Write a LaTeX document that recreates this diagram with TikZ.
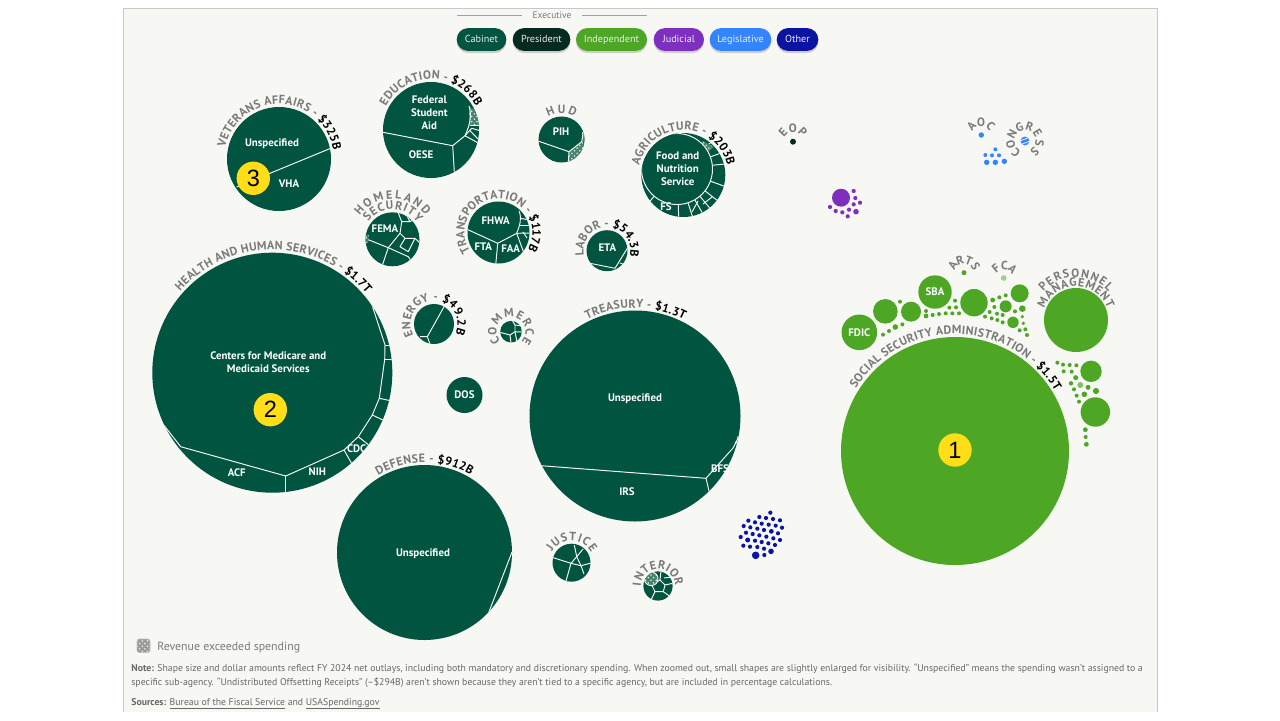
\documentclass[tikz,border=0pt]{standalone}
\usepackage{fontspec}
\setmainfont{PT Sans}
\newfontfamily\badgefont{Liberation Sans}
\usetikzlibrary{calc,patterns,shadows,decorations.text}
\definecolor{fedpaper}{RGB}{247,247,243}
\definecolor{fedframe}{RGB}{200,200,200}
\definecolor{fedcabinet}{RGB}{0,84,64}
\definecolor{fedpresident}{RGB}{5,42,32}
\definecolor{fedindep}{RGB}{78,167,36}
\definecolor{fedjudicial}{RGB}{127,47,189}
\definecolor{fedlegis}{RGB}{51,133,255}
\definecolor{fedother}{RGB}{10,20,160}
\definecolor{fedyellow}{RGB}{255,221,23}
\definecolor{fedgray}{RGB}{122,122,122}
\definecolor{fednote}{RGB}{104,104,104}
\definecolor{fedhatch}{RGB}{70,130,110}
\newcommand{\arcname}{\color{fedgray}\bfseries\fontsize{6.8}{8}\selectfont}
\newcommand{\arcamt}{\color{black}\bfseries\fontsize{6.8}{8}\selectfont}
% centre x, centre y, radius, first angle, last angle, text
\newcommand{\arclabel}[6]{
    \path[decorate,decoration={text along path,text align=fit to path,text={|\arcname|#6||}}]
        (#1,#2) ++(#4:#3) arc (#4:#5:#3);
}
% the tiny ones: centre x, centre y, radius, first angle, angle step, letters
\newcommand{\arcletters}[6]{
    \foreach \ch [count=\i from 0] in {#6} {
        \pgfmathsetmacro\ang{#4+\i*#5}
        \node[rotate=270-\ang,anchor=base,inner sep=0pt,font=\arcname] (letter\ch) at ({#1+#3*cos(\ang)},{#2+#3*sin(\ang)}) {\ch};
    }
}
\tikzset{
    cell/.style={draw=fedpaper,line width=0.55pt,line join=round},
    hatch/.style={preaction={fill=fedhatch},pattern=crosshatch dots,pattern color=white!85!fedhatch},
    hatchgray/.style={preaction={fill=fedgray!75},pattern=crosshatch dots,pattern color=white!85!fedgray},
    inlabel/.style={text=white,font=\bfseries\fontsize{6.2}{7.4}\selectfont,align=center,inner sep=0pt},
    badge/.style={circle,fill=fedyellow,minimum size=19pt,inner sep=0pt,font=\badgefont\fontsize{13.4}{14}\selectfont},
    pill/.style={rounded corners=6.5pt,minimum height=13pt,inner sep=0pt,text=white!92!black,text height=4.3pt,text depth=1.3pt,
        font=\fontsize{5.8}{7}\selectfont,drop shadow={shadow xshift=0pt,shadow yshift=-1.2pt,opacity=0.35}},
    footnote/.style={anchor=base west,inner sep=0pt,text=fednote,font=\fontsize{5.56}{7}\selectfont}
}
\begin{document}
\begin{tikzpicture}[x=0.02cm,y=-0.02cm]
    \useasboundingbox (0,0) rectangle (1280,720);
    \fill[white] (0,0) rectangle (1280,720);
    \fill[fedpaper] (123,8) rectangle (1157,712);
    \draw[fedframe,line width=0.5pt] (123,712) -- (123,8) -- (1157,8) -- (1157,712);

    % Branch legend
    \draw[fedgray!70,line width=0.35pt] (457,15) -- (522,15);
    \draw[fedgray!70,line width=0.35pt] (582,15) -- (647,15);
    \node[text=fedgray,font=\fontsize{5.4}{6}\selectfont] (execlabel) at (552,15.5) {Executive};
    \foreach \name/\col/\cx/\pw in {Cabinet/fedcabinet/481.5/49.6,President/fedpresident/541.5/57.6,
        Independent/fedindep/611.5/71,Judicial/fedjudicial/678.8/50.3,Legislative/fedlegis/740.5/61.6,Other/fedother/797.5/41.6} {
        \node[pill,fill=\col,minimum width=\pw*0.02cm] (pill\name) at (\cx,39.5) {\name};
    }

    % Veterans Affairs
    \fill[fedcabinet] (279,159) circle (52);
    \draw[cell] (330.7,148.3) -- (236.7,187);
    \arclabel{279}{159}{55}{192}{351}{VETERANS AFFAIRS - |\arcamt|{\$}325B}
    \node[inlabel] (vhaunspec) at (272,143.5) {Unspecified};
    \node[inlabel] (vha) at (289,184) {VHA};
    \node[badge] (badgethree) at (253.3,178.3) {3};

    % Education
    \fill[fedcabinet] (431,130) circle (48);
    \begin{scope}
        \clip (431,130) circle (48);
        \fill[hatch] (469,107) -- (481,112) -- (481,125) -- (469.5,125) -- cycle;
        \draw[cell] (383,132.3) -- (452.7,145.7) -- (454.3,172);
        \draw[cell] (452.7,145.7) -- (465,135.7) .. controls (470,125) and (472,115) .. (469,106);
        \draw[cell] (465,135.7) -- (480,144);
        \draw[cell] (465,135.7) -- (471.7,128.3) -- (481,131);
        \draw[cell] (469.3,130) -- (478,139);
        \draw[cell] (469.5,125) -- (481,125);
    \end{scope}
    \arclabel{431}{130}{51}{208}{332}{EDUCATION - |\arcamt|{\$}268B}
    \node[inlabel] (fsa) at (429.3,113) {Federal\\Student\\Aid};
    \node[inlabel] (oese) at (421,155) {OESE};

    % Housing and Urban Development
    \fill[fedcabinet] (561.5,139.5) circle (23);
    \begin{scope}
        \clip (561.5,139.5) circle (23);
        \fill[hatch] (569,151.7) -- (568.3,164) -- (578,164) -- (586,146) -- (581.7,141.7) -- cycle;
        \fill[hatch] (582,132) rectangle (586,141.7);
        \draw[cell] (538,141) -- (569,151.7) -- (568.3,163);
        \draw[cell] (569,151.7) -- (581.7,141.7) -- (583,133);
    \end{scope}
    \arcletters{561.5}{139.5}{26}{248}{22}{H,U,D}
    \node[inlabel] (pih) at (561,132) {PIH};

    % Agriculture
    \fill[fedcabinet] (683.3,175) circle (42);
    \begin{scope}
        \clip (683.3,175) circle (42);
        \foreach \a in {-38,-20,-6,20,38,50,60,72,88,130} {
            \draw[cell] (677,169) -- ++(\a:60);
        }
        \fill[hatch] (703,141) -- (714,147) -- (708,152) -- (699,146) -- cycle;
        \draw[cell,fill=fedcabinet] (677,169) circle (35.5);
        \draw[cell] (644,192) -- (652,214);
        \draw[cell] (703,204) -- (712,197);
        \draw[cell] (698,201) -- (692,212);
    \end{scope}
    \arclabel{683.3}{175}{45}{192}{348}{AGRICULTURE - |\arcamt|{\$}203B}
    \node[inlabel] (fns) at (677.7,169) {Food and\\Nutrition\\Service};
    \node[inlabel] (fs) at (666,206.7) {FS};

    % Homeland Security
    \fill[fedcabinet] (392.5,239.3) circle (27);
    \begin{scope}
        \clip (392.5,239.3) circle (27);
        \draw[cell] (364,238) -- (388.3,247.7) -- (381.7,267);
        \draw[cell] (388.3,247.7) -- (408.3,256.7) -- (412,262);
        \draw[cell] (388.3,247.7) -- (400,233.3) -- (401.7,221.7) -- (398.3,213);
        \draw[cell] (400,233.3) -- (405,238.3) -- (415,238.3) -- (420,243);
        \draw[cell] (405,238.3) -- (400,246.7) -- (408.3,251.7) -- (415,238.3);
        \draw[cell] (401.7,221.7) -- (410,221.7) -- (414,219);
        \draw[cell] (406,214) -- (410,221.7);
        \fill[hatch] (365,234) -- (369,235) -- (368,243) -- (364,243) -- cycle;
    \end{scope}
    \arclabel{392.5}{239.3}{30}{216}{326}{SECURITY}
    \arclabel{392.5}{239.3}{40.5}{216}{324}{HOMELAND}
    \node[inlabel] (fema) at (385,229) {FEMA};

    % Transportation
    \fill[fedcabinet] (498.5,232.5) circle (31);
    \begin{scope}
        \clip (498.5,232.5) circle (31);
        \draw[cell] (467,229.3) -- (497.7,243.3) -- (495.7,265);
        \draw[cell] (497.7,243.3) -- (516.7,233.3) .. controls (520,225) and (522,218) .. (519,211);
        \draw[cell] (516.7,233.3) -- (525,256);
        \draw[cell] (520,218.3) -- (530,220);
        \draw[cell] (519,225) -- (530,225);
        \draw[cell] (516.7,233.3) -- (530,233);
        \draw[cell] (523,232) -- (527,238);
    \end{scope}
    \arclabel{498.5}{232.5}{34}{146}{391}{TRANSPORTATION - |\arcamt|{\$}117B}
    \node[inlabel] (fhwa) at (495.7,220.7) {FHWA};
    \node[inlabel] (fta) at (483.3,246.7) {FTA};
    \node[inlabel] (faa) at (510.7,248.7) {FAA};

    % Labor
    \fill[fedcabinet] (607,250.7) circle (20.5);
    \begin{scope}
        \clip (607,250.7) circle (20.5);
        \draw[cell] (587,262.7) -- (615,268.3) -- (628.3,246.7);
        \draw[cell] (620,263) -- (628,266);
    \end{scope}
    \arclabel{607}{250.7}{23.5}{168}{374}{LABOR - |\arcamt|{\$}54.3B}
    \node[inlabel] (eta) at (607.3,247.3) {ETA};

    % Energy
    \fill[fedcabinet] (434,324) circle (20);
    \begin{scope}
        \clip (434,324) circle (20);
        \draw[cell] (445,305) -- (427.3,336.7) -- (420,336.7);
        \draw[cell] (427.3,336.7) -- (430,344);
    \end{scope}
    \arclabel{434}{324}{23.5}{151}{385}{ENERGY - |\arcamt|{\$}49.2B}

    % Commerce
    \fill[fedcabinet] (511,331.7) circle (10.8);
    \begin{scope}
        \clip (511,331.7) circle (10.8);
        \draw[cell] (500,332.3) -- (510,335) -- (515,331.7) -- (515,325) -- (512,320);
        \draw[cell] (510,335) -- (511,343);
        \draw[cell] (515,331.7) -- (517,342);
        \draw[cell] (515,325) -- (522,326);
        \draw[cell] (515,331.7) -- (522,332);
    \end{scope}
    \arclabel{511}{331.7}{14.5}{136}{404}{COMMERCE}

    % State
    \fill[fedcabinet] (464.5,395) circle (18);
    \node[inlabel] (dos) at (464.5,395) {DOS};

    % Health and Human Services
    \fill[fedcabinet] (272.3,372.7) circle (120);
    \begin{scope}
        \clip (272.3,372.7) circle (120);
        \draw[cell] (371.7,304) -- (385,345) -- (384.7,359.3) -- (379.3,398.3) -- (372.3,415) -- (358.3,436.7) -- (344,450) -- (285.7,476) -- (180.7,446.7) -- (163,424);
        \draw[cell] (385,345) -- (394,345);
        \draw[cell] (384.7,359.3) -- (394,359.3);
        \draw[cell] (379.3,398.3) -- (392,401);
        \draw[cell] (372.3,415) -- (385,421);
        \draw[cell] (358.3,436.7) -- (370,446);
        \draw[cell] (344,450) -- (352,464);
        \draw[cell] (285.7,476) -- (285.7,494);
    \end{scope}
    \arclabel{272.3}{372.7}{123}{221.5}{320}{HEALTH AND HUMAN SERVICES - |\arcamt|{\$}1.7T}
    \node[inlabel] (cms) at (268.3,361.7) {Centers for Medicare and\\Medicaid Services};
    \node[inlabel] (acf) at (236.7,472.7) {ACF};
    \node[inlabel] (nih) at (317.3,472) {NIH};
    \node[inlabel] (cdc) at (356.7,449) {CDC};
    \node[badge] (badgetwo) at (270.3,409.7) {2};

    % Treasury
    \fill[fedcabinet] (635,416) circle (105.5);
    \begin{scope}
        \clip (635,416) circle (105.5);
        \draw[cell] (541,465.7) -- (706,478.3) -- (709,491);
        \draw[cell] (706,478.3) -- (733.3,447.7) -- (741,432);
        \draw[cell] (735,442) -- (741,445);
        \draw[cell] (737,437) -- (742,439);
    \end{scope}
    \arclabel{635}{416}{108}{243.7}{297}{TREASURY - |\arcamt|{\$}1.3T}
    \node[inlabel] (treasunspec) at (635,398.5) {Unspecified};
    \node[inlabel] (irs) at (627,492) {IRS};
    \node[inlabel] (bfs) at (720,468.3) {BFS};

    % Defense
    \fill[fedcabinet] (424.5,552.5) circle (87.5);
    \begin{scope}
        \clip (424.5,552.5) circle (87.5);
        \draw[cell] (512,552) -- (487,617) -- (477,630);
    \end{scope}
    \arclabel{424.5}{552.5}{90}{239}{301}{DEFENSE - |\arcamt|{\$}912B}
    \node[inlabel] (defunspec) at (423,553.5) {Unspecified};

    % Justice
    \fill[fedcabinet] (571.5,562.7) circle (19);
    \begin{scope}
        \clip (571.5,562.7) circle (19);
        \draw[cell] (552,557.3) -- (571,563.3) -- (565.7,582);
        \draw[cell] (571,563.3) -- (576.7,556.7) -- (574.3,545);
        \draw[cell] (571,563.3) -- (581,565.7) -- (584,574);
        \draw[cell] (581,565.7) -- (591,563);
        \draw[cell] (576.7,556.7) -- (581,565.7);
        \draw[cell] (576.7,556.7) -- (583,549);
    \end{scope}
    \arclabel{571.5}{562.7}{22}{209}{333}{JUSTICE}

    % Interior
    \fill[fedcabinet] (658,586) circle (14.6);
    \begin{scope}
        \clip (658,586) circle (14.6);
        \draw[cell] (660,580) -- (665,585) -- (663.3,591.7) -- (655,591.7) -- (651.7,585) -- cycle;
        \draw[cell] (660,580) -- (661,571);
        \draw[cell] (665,585) -- (674,583);
        \draw[cell] (663.3,591.7) -- (671,597);
        \draw[cell] (655,591.7) -- (651,600);
        \draw[cell] (664,578) -- (672,577);
        \draw[cell,hatch] (651.2,578.8) circle (6.8);
    \end{scope}
    \arclabel{658}{586}{17}{180}{360}{INTERIOR}

    % Small agencies, zoomed pixel positions
    \fill[fedpresident] (793,141.7) circle (3);
    \arcletters{793}{141.7}{9.5}{223}{46}{E,O,P}
    \fill[fedlegis] (981.3,135) circle (2.7);
    \arcletters{981.3}{135}{9}{222}{47}{A,O,C}
    \fill[fedlegis] (1025,141) circle (4.4);
    \begin{scope}
        \clip (1025,141) circle (4.4);
        \draw[white,line width=0.4pt] (1020,141) -- (1030,137);
        \draw[white,line width=0.4pt] (1020,145) -- (1030,141);
    \end{scope}
    \arcletters{1025}{141}{10.5}{128}{40}{C,O,N,G,R,E,S,S}
    \foreach \x/\y/\r in {706/148/2,676/165/2,696/166/2,717/166/2,680/187/2.7,706/187/2.7,733/184/2.7} {
        \fill[fedlegis] (760+\x/3,100+\y/3) circle (\r);
    }
    \fill[fedjudicial] (841,197.7) circle (9);
    \foreach \x/\y/\r in {281/273/2.1,286/294/2.1,300/308/2.1,281/313/2.1,267/329/2.1,288/335/2.8,247/337/2.1,227/333/2.1,210/321/2.1,263/349/2.1} {
        \fill[fedjudicial] (760+\x/3,100+\y/3) circle (\r);
    }
    \foreach \x/\y/\r in {751/338/2.1,718/351/2.1,738/354/2.1,759/357/2.1,780/361/2.1,685/362/2.1,705/367/2.1,725/371/2.1,746/374/2.1,767/377/2.1,786/383/2.1,
        671/378/2.1,691/382/2.1,712/386/2.1,732/390/2.1,754/394/2.4,774/400/2.1,678/398/2.1,698/402/2.1,718/406/2.1,739/410/2.1,760/415/2.1,780/420/2.1,
        662/411/2.1,683/420/2.5,705/422/2.1,725/426/2.1,745/430/2.1,765/435/2.1,670/437/2.1,690/440/2.1,712/441/2.1,732/446/2.1,753/454/2.8,733/465/2.1,707/466/3.8} {
        \fill[fedother] (520+\x/3,400+\y/3) circle (\r);
    }

    % Independent agencies
    \fill[fedindep] (955,451) circle (114);
    \arclabel{955}{451}{117}{212}{329}{SOCIAL SECURITY ADMINISTRATION - |\arcamt|{\$}1.5T}
    \node[badge] (badgeone) at (955,450) {1};
    \fill[fedindep] (1076,320) circle (32);
    \arclabel{1076}{320}{33.5}{200}{340}{MANAGEMENT}
    \arclabel{1076}{320}{43}{221}{319}{PERSONNEL}
    \foreach \x/\y/\r in {298/697/17.8,376/634/12.3,453/635/10,525/576/16.7,642/608/13.7,779/580/9,737/619/6,759/667/5.7,787/626/3.3,
        369/704/2,387/693/2,406/681/2.8,427/673/2,420/605/2,498/633/2,498/648/2.4,518/645/2,537/642/2,557/640/2,577/640/2,597/640/2,
        568/623/2,588/622/2,585/602/2,698/600/2.4,718/592/2,737/586/2,703/621/2,689/636/2,711/641/2,728/645/2,675/650/2,695/655/2,
        712/660/2,728/667/2,765/634/2,787/650/1.8,790/670/1.8,796/688/2,779/691/2,801/705/2,612/518/2.5} {
        \fill[fedindep] (760+\x/3,100+\y/3) circle (\r);
    }
    \foreach \x/\y/\r in {52/38/2,69/44/2,89/45/2,109/46/2,71/64/2,95/65/2,107/83/2.5,93/100/2.2,144/112/2.5,102/118/2,133/133/2.8,168/123/3.1,110/137/2,117/155/2,
        153/64/10.7,166/186/14.7,136/239/2.4,137/261/2,139/283/2.4} {
        \fill[fedindep] (1040+\x/3,350+\y/3) circle (\r);
    }
    \draw[fedindep!70,fill=fedindep!40,line width=0.3pt] (1003.7,278) circle (2.4);
    \fill[fedindep!70] (1003.7,278) circle (1);
    \fill[fedindep!70] (1080.3,385) circle (3);
    \arcletters{964}{272.7}{9}{212}{40}{A,R,T,S}
    \arcletters{1003.7}{278}{8.5}{231}{42}{F,C,A}
    \node[inlabel] (fdic) at (859.3,332.3) {FDIC};
    \node[inlabel] (sba) at (935,291.7) {SBA};

    % Notes
    \draw[fedgray!50,hatchgray,line width=0.3pt,rounded corners=1.2pt] (137,639) rectangle (150,652.5);
    \node[footnote,text=fedgray,font=\fontsize{6.75}{8}\selectfont] (revenue) at (157,650) {Revenue exceeded spending};
    \node[footnote] (noteone) at (131,671) {\textbf{Note:} Shape size and dollar amounts reflect FY 2024 net outlays, including both mandatory and discretionary spending. When zoomed out, small shapes are slightly enlarged for visibility. “Unspecified” means the spending wasn’t assigned to a};
    \node[footnote] (notetwo) at (131,685.5) {specific sub-agency. “Undistributed Offsetting Receipts” (–\$294B) aren’t shown because they aren’t tied to a specific agency, but are included in percentage calculations.};
    \node[footnote] (sources) at (131,705.5) {\textbf{Sources:} \underline{\smash{Bureau of the Fiscal Service}} and \underline{\smash{USASpending.gov}}};
\end{tikzpicture}
\end{document}
